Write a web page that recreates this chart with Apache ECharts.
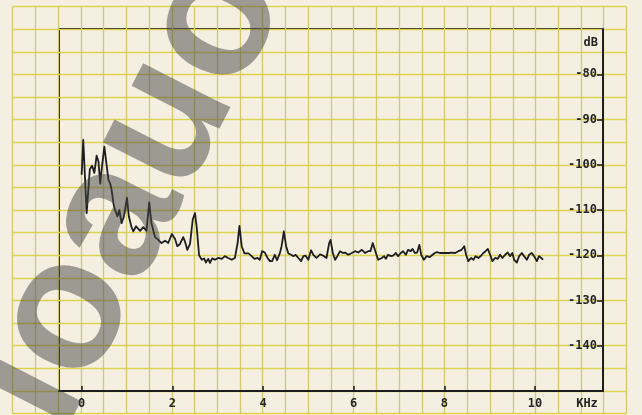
<!DOCTYPE html>
<html>
<head>
<meta charset="utf-8">
<script src="https://cdn.jsdelivr.net/npm/echarts@6/dist/echarts.min.js"></script>
<style>
  html, body { margin: 0; padding: 0; background: #f4efe1; }
  #chart { width: 642px; height: 415px; }
</style>
</head>
<body>
<div id="chart"></div>
<script>
// Noise spectrum: frequency (kHz) and level (dB)
const freqKHz = [
  0.00, 0.035, 0.11, 0.18, 0.23, 0.28, 0.33, 0.37, 0.41, 0.44, 0.50, 0.53, 0.59, 0.63, 0.66, 0.70,
  0.73, 0.79, 0.83, 0.88, 0.93, 1.00, 1.04, 1.10, 1.14, 1.20, 1.29, 1.36, 1.43, 1.49, 1.54, 1.62,
  1.68, 1.76, 1.84, 1.91, 1.99, 2.02, 2.06, 2.11, 2.17, 2.24, 2.28, 2.33, 2.39, 2.45, 2.50, 2.54,
  2.59, 2.65, 2.70, 2.74, 2.79, 2.83, 2.88, 2.94, 3.01, 3.09, 3.16, 3.23, 3.31, 3.38, 3.44, 3.48,
  3.53, 3.59, 3.68, 3.75, 3.81, 3.88, 3.93, 3.98, 4.04, 4.10, 4.15, 4.20, 4.26, 4.31, 4.37, 4.41,
  4.46, 4.51, 4.56, 4.62, 4.67, 4.72, 4.78, 4.84, 4.89, 4.94, 5.00, 5.06, 5.11, 5.18, 5.26, 5.33,
  5.40, 5.46, 5.49, 5.54, 5.59, 5.64, 5.70, 5.76, 5.81, 5.88, 5.96, 6.03, 6.10, 6.18, 6.25, 6.32,
  6.37, 6.42, 6.46, 6.49, 6.54, 6.62, 6.67, 6.71, 6.76, 6.82, 6.87, 6.93, 6.98, 7.04, 7.09, 7.15,
  7.20, 7.26, 7.30, 7.35, 7.40, 7.45, 7.49, 7.55, 7.61, 7.68, 7.74, 7.79, 7.84, 7.90, 7.94, 8.01,
  8.09, 8.16, 8.24, 8.31, 8.38, 8.44, 8.48, 8.53, 8.59, 8.64, 8.69, 8.75, 8.81, 8.86, 8.91, 8.96,
  9.01, 9.06, 9.12, 9.18, 9.23, 9.28, 9.34, 9.40, 9.45, 9.50, 9.54, 9.60, 9.65, 9.71, 9.76, 9.82,
  9.87, 9.93, 9.98, 10.04, 10.09, 10.13, 10.18
];
const levelDB = [
  -102.2, -94.5, -110.7, -101, -100.2, -101.8, -98, -99.3, -104.2, -101.1, -96, -96.2, -103.3, -104.2, -105.5, -108.5,
  -109.8, -111.4, -110, -112.9, -111.5, -107.3, -111.4, -113.8, -114.7, -113.6, -114.6, -113.8, -114.6, -108.3, -113, -116,
  -116.5, -117.3, -116.8, -117.3, -115.3, -115.3, -116.4, -118, -117.5, -116, -117, -118.8, -117.5, -112.1, -110.7, -114,
  -120, -121, -120.7, -121.6, -120.8, -121.7, -120.7, -121, -120.6, -120.8, -120.2, -120.6, -121, -120.6, -117.3, -113.5,
  -118, -119.6, -119.6, -120.2, -120.8, -120.6, -121, -119.1, -119.4, -120.6, -121.3, -121.3, -119.9, -121.1, -119.6, -118,
  -114.7, -118, -119.6, -119.9, -120.2, -119.9, -120.6, -121.3, -120.2, -120.1, -121, -118.9, -119.9, -120.6, -119.8, -120.1,
  -120.6, -117.3, -116.6, -119.5, -121, -120.2, -119.1, -119.5, -119.4, -119.9, -119.5, -119.1, -119.4, -118.8, -119.5, -119.1,
  -119.1, -117.3, -116.9, -119.5, -121, -120.6, -120.2, -120.8, -119.9, -120.2, -120.1, -119.5, -120.2, -119.5, -119.1, -119.9,
  -118.8, -119.1, -118.6, -119.5, -119.4, -117.7, -119.9, -121, -120.2, -120.4, -119.9, -119.5, -119.3, -119.5, -119.9, -119.5,
  -119.5, -119.4, -119.5, -119.1, -118.8, -118, -119.9, -121.3, -120.6, -121, -120.2, -120.6, -120.1, -119.5, -119.1, -118.6,
  -119.9, -121.3, -120.6, -120.8, -119.9, -120.6, -119.9, -119.4, -120.2, -119.5, -121, -121.6, -120.2, -119.5, -120.2, -121,
  -119.9, -119.5, -120.2, -121.3, -120.2, -119.9, -121
];
const freqTicks = [0, 2, 4, 6, 8, 10];
const levelTicks = [-80, -90, -100, -110, -120, -130, -140];

const ink = '#1d1d20';
const labelFont = { fontFamily: 'DejaVu Sans Mono', fontWeight: 'bold', fontSize: 12, color: '#242424' };

const chart = echarts.init(document.getElementById('chart'), null, { renderer: 'canvas' });

chart.setOption({
  backgroundColor: '#f4efe1',
  animation: false,
  grid: [
    // graph paper
    { left: 12.7, top: 6.7, width: 27 * 22.73, height: 18 * 22.6, show: false },
    // plot frame
    { left: 59, top: 29, width: 544, height: 362, show: true, borderColor: ink, borderWidth: 2, backgroundColor: 'transparent' }
  ],
  xAxis: [
    {
      gridIndex: 0, type: 'value', min: 0, max: 27, interval: 1,
      axisLine: { show: false }, axisTick: { show: false }, axisLabel: { show: false },
      splitLine: { show: true, lineStyle: { color: '#d2ca6c', width: 1.3 } }
    },
    {
      gridIndex: 1, type: 'value', min: -0.5, max: 11.5,
      axisLine: { show: true, onZero: false, lineStyle: { color: ink, width: 2 } },
      axisTick: { show: true, inside: true, length: 5, customValues: freqTicks, lineStyle: { color: ink, width: 1.6 } },
      axisLabel: Object.assign({ show: true, margin: 7, customValues: freqTicks }, labelFont),
      splitLine: { show: false }
    }
  ],
  yAxis: [
    {
      gridIndex: 0, type: 'value', min: 0, max: 18, interval: 1,
      axisLine: { show: false }, axisTick: { show: false }, axisLabel: { show: false },
      splitLine: { show: true, lineStyle: { color: '#dcd352', width: 1.3 } }
    },
    {
      gridIndex: 1, type: 'value', position: 'right', min: -150, max: -70, interval: 10,
      axisLine: { show: true, onZero: false, lineStyle: { color: ink, width: 2 } },
      axisTick: { show: true, inside: true, length: 6, customValues: levelTicks, lineStyle: { color: ink, width: 1.6 } },
      axisLabel: Object.assign({ show: true, inside: true, margin: 6, customValues: levelTicks }, labelFont),
      splitLine: { show: false }
    }
  ],
  series: [
    {
      type: 'line',
      xAxisIndex: 1,
      yAxisIndex: 1,
      data: freqKHz.map((f, i) => [f, levelDB[i]]),
      showSymbol: false,
      lineStyle: { color: ink, width: 1.8, join: 'round' },
      z: 5
    }
  ],
  graphic: [
    {
      type: 'text', x: 598, y: 43, z: 10,
      style: { text: 'dB', align: 'right', verticalAlign: 'middle', font: 'bold 12px "DejaVu Sans Mono"', fill: '#242424' }
    },
    {
      type: 'text', x: 587, y: 404, z: 10,
      style: { text: 'KHz', align: 'center', verticalAlign: 'middle', font: 'bold 12px "DejaVu Sans Mono"', fill: '#242424' }
    },
    {
      type: 'text', x: 130, y: 192, rotation: 63 * Math.PI / 180, z: 20, silent: true,
      style: { text: 'loauo', align: 'center', verticalAlign: 'middle', font: 'bold 185px "Liberation Sans"', fill: 'rgba(70,70,70,0.5)' }
    }
  ]
});
</script>
</body>
</html>
